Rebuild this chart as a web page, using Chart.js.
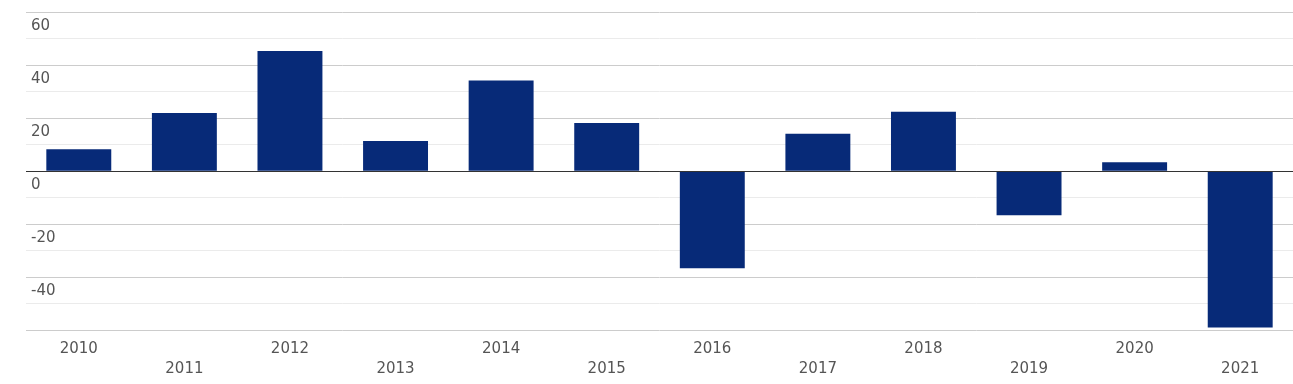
<!DOCTYPE html>
<html>
<head>
<meta charset="utf-8">
<script src="https://cdn.jsdelivr.net/npm/chart.js@4/dist/chart.umd.min.js"></script>
<style>
  html, body { margin: 0; padding: 0; background: #fff; }
  #wrap { width: 1293px; height: 384px; position: relative; }
</style>
</head>
<body>
<div id="wrap"><canvas id="c"></canvas></div>
<script>
const categories = ['2010','2011','2012','2013','2014','2015','2016','2017','2018','2019','2020','2021'];
const values = [8.3, 21.9, 45.3, 11.4, 34.2, 18.2, -36.5, 14.1, 22.4, -16.6, 3.4, -58.9];
const yTicks = [-60, -40, -20, 0, 20, 40, 60];

const zeroLine = {
  id: 'zeroLine',
  afterDatasetsDraw(chart) {
    const y = chart.scales.y.getPixelForValue(0);
    const ctx = chart.ctx;
    const py = Math.round(y - 0.5) + 0.5;
    ctx.save();
    ctx.strokeStyle = '#333333';
    ctx.lineWidth = 1;
    ctx.beginPath();
    ctx.moveTo(chart.chartArea.left, py);
    ctx.lineTo(chart.chartArea.right, py);
    ctx.stroke();
    ctx.restore();
  }
};

new Chart(document.getElementById('c'), {
  type: 'bar',
  data: {
    labels: categories,
    datasets: [{
      data: values,
      backgroundColor: '#072a78',
      borderWidth: 0,
      barPercentage: 0.615,
      categoryPercentage: 1.0
    }]
  },
  options: {
    responsive: true,
    maintainAspectRatio: false,
    animation: false,
    layout: { padding: { left: 16, right: 0, top: 12, bottom: -3 } },
    plugins: { legend: { display: false }, tooltip: { enabled: false } },
    scales: {
      x: {
        grid: { display: false, drawTicks: false },
        border: { display: false },
        ticks: {
          autoSkip: false,
          maxRotation: 0,
          minRotation: 0,
          padding: 8,
          color: '#555555',
          font: { family: 'DejaVu Sans', size: 15, lineHeight: 1.35 },
          callback: function(v, i) {
            const l = this.getLabelForValue(v);
            return i % 2 ? ['', l] : l;
          }
        }
      },
      y: {
        min: -60,
        max: 60,
        border: { display: false },
        grid: {
          drawTicks: false,
          lineWidth: 1,
          color: (ctx) => {
            const v = ctx.tick.value;
            if (v === 0) return '#333333';
            if (v % 20 === 0) return '#cccccc';
            return '#ebebeb';
          }
        },
        ticks: {
          stepSize: 10,
          mirror: true,
          padding: 5,
          labelOffset: 14,
          color: '#555555',
          font: { family: 'DejaVu Sans', size: 15, lineHeight: 0.6 },
          callback: (v) => (yTicks.includes(v) && v > -60) ? String(v) : ''
        }
      }
    }
  },
  plugins: [zeroLine]
});
</script>
</body>
</html>
